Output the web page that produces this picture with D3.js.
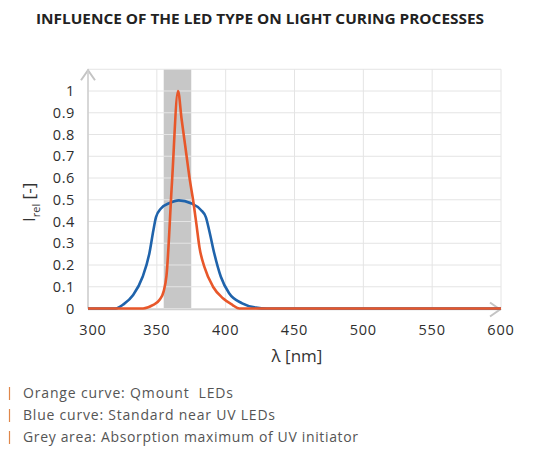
<!DOCTYPE html>
<html><head><meta charset="utf-8">
<script src="https://cdn.jsdelivr.net/npm/d3@7"></script>
<style>
html,body{margin:0;padding:0;background:#fff;}
svg{display:block;font-family:"Open Sans",sans-serif;}
</style></head>
<body>
<script>
// ---- data ----
const title = "INFLUENCE OF THE LED TYPE ON LIGHT CURING PROCESSES";
const xTicks = [300, 350, 400, 450, 500, 550, 600];
const yTicks = [0, 0.1, 0.2, 0.3, 0.4, 0.5, 0.6, 0.7, 0.8, 0.9, 1];
const yTickLabels = ["0", "0.1", "0.2", "0.3", "0.4", "0.5", "0.6", "0.7", "0.8", "0.9", "1"];
const absorptionBand = [355, 375];
const orangeWl = [300, 340, 347, 352, 355, 357, 361, 365.4, 368, 371, 374, 376.3, 378.7, 381, 384.6, 390.8, 398, 405, 410, 600];
const orangeI  = [0, 0, 0.015, 0.04, 0.08, 0.15, 0.58, 1.0, 0.87, 0.73, 0.59, 0.5, 0.39, 0.28, 0.19, 0.10, 0.047, 0.016, 0, 0];
const blueWl = [300, 320, 326, 332.8, 339.7, 344.6, 347.5, 349.4, 353, 359, 366, 374.8, 382, 385.6, 388, 391.7, 396.5, 402.5, 412, 422, 430, 600];
const blueI  = [0, 0, 0.02, 0.062, 0.146, 0.254, 0.36, 0.42, 0.46, 0.484, 0.497, 0.484, 0.453, 0.42, 0.36, 0.254, 0.146, 0.07, 0.024, 0.004, 0, 0];
const legendItems = ["Orange curve: Qmount  LEDs", "Blue curve: Standard near UV LEDs", "Grey area: Absorption maximum of UV initiator"];
const legendWidths = [210, 252, 335];

// ---- layout ----
const W = 534, H = 454;
const svg = d3.select("body").append("svg").attr("width", W).attr("height", H);

const x = d3.scaleLinear().domain([300, 600]).range([88, 501]);
const y = d3.scaleLinear().domain([0, 1.1]).range([308.5, 69.25]);

// title
svg.append("text").attr("x", 36).attr("y", 24)
  .attr("textLength", 448).attr("lengthAdjust", "spacingAndGlyphs")
  .style("font-size", "13.5px").style("font-weight", 700).style("fill", "#222")
  .text(title);

// band
svg.append("rect")
  .attr("x", x(absorptionBand[0])).attr("width", x(absorptionBand[1]) - x(absorptionBand[0]))
  .attr("y", y(1.1)).attr("height", y(0) - y(1.1))
  .attr("fill", "#c7c7c7");

// grid
const g = svg.append("g");
g.selectAll(".hg").data(yTicks.concat([1.1])).enter().append("line")
  .attr("x1", x(300)).attr("x2", x(600))
  .attr("y1", d => y(d)).attr("y2", d => y(d))
  .attr("stroke", "#e4e4e4").attr("stroke-width", 1);
g.selectAll(".vg").data(xTicks).enter().append("line")
  .attr("x1", d => x(d)).attr("x2", d => x(d))
  .attr("y1", y(1.1)).attr("y2", y(0))
  .attr("stroke", d => d === 300 ? "#d4d4d4" : "#e4e4e4").attr("stroke-width", 1);

// axis arrows
const arrowCol = "#c4c4c4";
svg.append("path").attr("d", `M${x(300)-7},${y(1.1)+11} L${x(300)},${y(1.1)+1} L${x(300)+7},${y(1.1)+11}`)
  .attr("fill", "none").attr("stroke", arrowCol).attr("stroke-width", 2);
svg.append("line").attr("x1", x(300)).attr("x2", x(300)).attr("y1", y(1.1)+1).attr("y2", y(0))
  .attr("stroke", "#d0d0d0").attr("stroke-width", 1.5);
svg.append("line").attr("x1", x(300)).attr("x2", x(600)).attr("y1", y(0)+1).attr("y2", y(0)+1)
  .attr("stroke", "#d0d0d0").attr("stroke-width", 1.5);
svg.append("path").attr("d", `M${x(600)-11},${y(0)-6} L${x(600)-1},${y(0)+1} L${x(600)-11},${y(0)+8}`)
  .attr("fill", "none").attr("stroke", arrowCol).attr("stroke-width", 2);

// tick labels
svg.selectAll(".yl").data(yTicks).enter().append("text")
  .attr("x", 75).attr("y", d => y(d)).attr("dy", "0.36em")
  .attr("text-anchor", "end")
  .style("font-size", "14.5px").style("font-weight", 500).style("letter-spacing", "0.6px").style("fill", "#2e2e2e")
  .text((d, i) => yTickLabels[i]);
svg.selectAll(".xl").data(xTicks).enter().append("text")
  .attr("x", d => x(d) + (d === 300 ? 5 : 0)).attr("y", 335)
  .attr("text-anchor", "middle")
  .style("font-size", "14.5px").style("font-weight", 500).style("letter-spacing", "0.8px").style("fill", "#2e2e2e")
  .text(d => d);

// axis titles
const yt = svg.append("text").attr("transform", "translate(35,222) rotate(-90)")
  .style("font-size", "17px").style("font-weight", 500).style("fill", "#333");
yt.append("tspan").text("I");
yt.append("tspan").attr("dy", 5).style("font-size", "11px").text("rel");
yt.append("tspan").attr("dy", -5).text(" [-]");

svg.append("text").attr("x", 297).attr("y", 362).attr("text-anchor", "middle")
  .style("font-size", "17px").style("font-weight", 500).style("fill", "#333").text("λ [nm]");

// curves
const line = d3.line().x(d => x(d[0])).y(d => y(d[1])).curve(d3.curveMonotoneX);
svg.append("path").datum(blueWl.map((w, i) => [w, blueI[i]]))
  .attr("d", line).attr("fill", "none").attr("stroke", "#1f63ab").attr("stroke-width", 2.6)
  .attr("stroke-linejoin", "round");
svg.append("path").datum(orangeWl.map((w, i) => [w, orangeI[i]]))
  .attr("d", line).attr("fill", "none").attr("stroke", "#e8572a").attr("stroke-width", 2.6)
  .attr("stroke-linejoin", "round");

// legend
legendItems.forEach((t, i) => {
  const yy = 398 + i * 22;
  svg.append("line").attr("x1", 9.5).attr("x2", 9.5).attr("y1", yy - 11).attr("y2", yy + 2)
    .attr("stroke", "#e0874a").attr("stroke-width", 1.2);
  svg.append("text").attr("x", 23).attr("y", yy)
    .attr("textLength", legendWidths[i]).attr("lengthAdjust", "spacing")
    .style("white-space", "pre")
    .style("font-size", "14px").style("fill", "#555").text(t);
});
</script>
</body></html>
